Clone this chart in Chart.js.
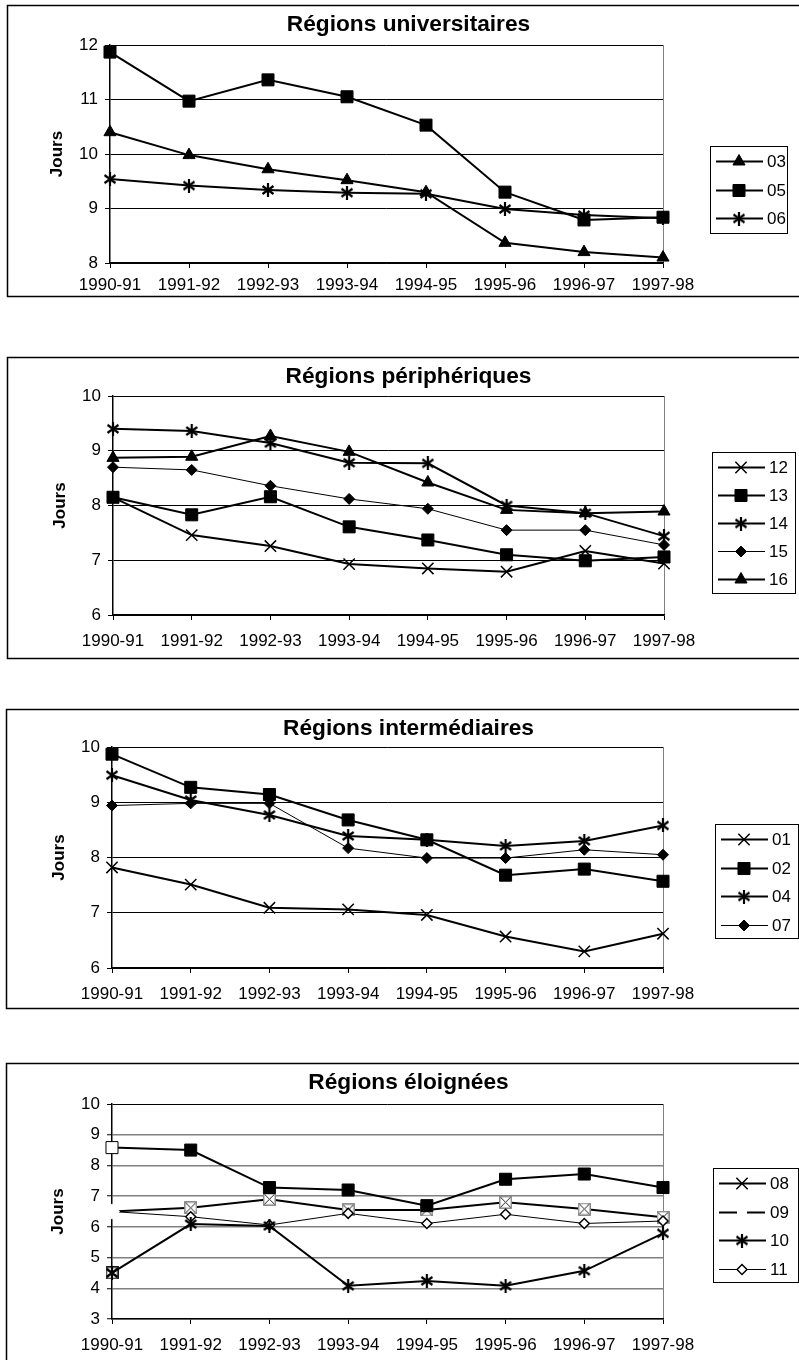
<!DOCTYPE html>
<html lang="fr">
<head>
<meta charset="utf-8">
<title>Jours par région</title>
<script src="https://cdn.jsdelivr.net/npm/chart.js@4.4.1/dist/chart.umd.min.js"></script>
<style>
  html, body { margin: 0; padding: 0; background: #fff; overflow: hidden; }
  #page { position: relative; width: 799px; height: 1360px; overflow: hidden; }
  #page canvas { position: absolute; left: 0; }
</style>
</head>
<body>
<div id="page">
  <canvas id="univ" width="817" height="330" style="top:0"></canvas>
  <canvas id="peri" width="817" height="330" style="top:352px"></canvas>
  <canvas id="inter" width="817" height="330" style="top:704px"></canvas>
  <canvas id="eloi" width="817" height="302" style="top:1058px"></canvas>
</div>
<script>
const years = ['1990-91', '1991-92', '1992-93', '1993-94', '1994-95', '1995-96', '1996-97', '1997-98'];

// Régions universitaires
const univ03 = [10.4, 9.98, 9.72, 9.52, 9.3, 8.37, 8.2, 8.1];
const univ05 = [11.87, 10.97, 11.36, 11.05, 10.53, 9.3, 8.79, 8.84];
const univ06 = [9.54, 9.42, 9.34, 9.29, 9.27, 8.99, 8.88, 8.82];
const univRange = [8, 12];

// Régions périphériques
const peri12 = [8.15, 7.46, 7.26, 6.93, 6.85, 6.79, 7.17, 6.94];
const peri13 = [8.15, 7.83, 8.16, 7.61, 7.37, 7.1, 6.99, 7.06];
const peri14 = [9.4, 9.36, 9.14, 8.78, 8.77, 8.0, 7.86, 7.44];
const peri15 = [8.7, 8.65, 8.36, 8.12, 7.94, 7.55, 7.55, 7.28];
const peri16 = [8.87, 8.89, 9.27, 8.98, 8.42, 7.92, 7.86, 7.89];
const periRange = [6, 10];

// Régions intermédiaires
const inter01 = [7.82, 7.51, 7.09, 7.06, 6.96, 6.57, 6.3, 6.62];
const inter02 = [9.87, 9.27, 9.14, 8.68, 8.32, 7.68, 7.79, 7.57];
const inter04 = [9.49, 9.04, 8.77, 8.39, 8.32, 8.21, 8.3, 8.58];
const inter07 = [8.94, 8.98, 8.98, 8.17, 7.99, 7.99, 8.14, 8.05];
const interRange = [6, 10];

// Régions éloignées (legend and markers do not match in the original)
const eloiCarres = [8.58, 8.5, 7.28, 7.2, 6.69, 7.55, 7.72, 7.28];
const eloi08 = [6.5, 6.62, 6.9, 6.55, 6.55, 6.8, 6.58, 6.31];
const eloi10 = [4.5, 6.09, 6.03, 4.08, 4.24, 4.08, 4.57, 5.79];
const eloi11 = [6.5, 6.33, 6.06, 6.44, 6.11, 6.41, 6.11, 6.19];
const eloiPoint = [4.5, null, null, null, null, null, null, null];
const eloiRange = [3, 10];

const FONT = '"Liberation Sans", Arial, sans-serif';
Chart.defaults.font.family = FONT;
Chart.defaults.color = '#000';

// excel-like markers that chart.js doesn't have
function asterisk(size) {
  const c = document.createElement('canvas');
  c.width = c.height = size;
  const g = c.getContext('2d');
  g.strokeStyle = '#000';
  g.lineWidth = 2.2;
  const a = 1.5, b = size - 1.5, m = size / 2;
  g.beginPath();
  g.moveTo(a, a + 1.5); g.lineTo(b, b - 1.5);
  g.moveTo(b, a + 1.5); g.lineTo(a, b - 1.5);
  g.moveTo(m, 0); g.lineTo(m, size);
  g.stroke();
  return c;
}

function crossBox(size, border) {
  const c = document.createElement('canvas');
  c.width = c.height = size;
  const g = c.getContext('2d');
  g.fillStyle = '#fff';
  g.fillRect(0.5, 0.5, size - 1, size - 1);
  g.strokeStyle = border;
  g.lineWidth = 1.3;
  g.strokeRect(0.75, 0.75, size - 1.5, size - 1.5);
  g.strokeStyle = '#222';
  g.lineWidth = 1;
  g.beginPath();
  g.moveTo(1.5, 1.5); g.lineTo(size - 1.5, size - 1.5);
  g.moveTo(size - 1.5, 1.5); g.lineTo(1.5, size - 1.5);
  g.stroke();
  return c;
}

const ASTERISK = asterisk(14);
const XBOX = crossBox(13, '#808080');
const XBOX_DARK = crossBox(13, '#000');

const MARKS = {
  tri:  { point: 'triangle', radius: 7, line: 2 },
  sq:   { point: 'rect', radius: 8.5, line: 2 },
  ast:  { point: ASTERISK, radius: 7, line: 2 },
  x:    { point: 'crossRot', radius: 8, pointLine: 1.5, line: 2 },
  dia:  { point: 'rectRot', radius: 5.5, line: 1 },
  odia: { point: 'rectRot', radius: 5, fill: '#fff', pointLine: 1.5, line: 1 },
  xbox: { point: XBOX, radius: 7, line: 2 },
  dbox: { point: XBOX_DARK, radius: 7, line: 2 },
  dash: { point: false, radius: 0, line: 2, dash: [18, 10] }
};

function serie(label, data, mark, extra) {
  const m = MARKS[mark];
  return Object.assign({
    label: label,
    data: data,
    borderColor: '#000',
    borderWidth: m.line,
    borderDash: m.dash || [],
    pointStyle: m.point,
    pointRadius: m.radius,
    pointBackgroundColor: m.fill || '#000',
    pointBorderColor: '#000',
    pointBorderWidth: m.pointLine || 1,
    tension: 0,
    fill: false,
    clip: false
  }, extra || {});
}

// frame + boxed legend drawn after the chart
function cadre(lay, legend) {
  return {
    id: 'cadre',
    afterDraw(chart) {
      const ctx = chart.ctx;
      ctx.save();
      ctx.strokeStyle = '#000';
      ctx.lineWidth = 1.5;
      ctx.strokeRect(lay.frame[0] + 0.5, 5.5, 830, lay.frame[1]);

      const [bx, by, bw, bh, first, step] = lay.box;
      ctx.lineWidth = 1;
      ctx.strokeRect(bx + 0.5, by + 0.5, bw, bh);
      legend.forEach((item, i) => {
        const m = MARKS[item[1]];
        const y = Math.round(by + first + i * step) + 0.5;
        ctx.strokeStyle = '#000';
        ctx.lineWidth = m.line;
        ctx.setLineDash(m.dash || []);
        ctx.beginPath();
        ctx.moveTo(bx + 6, y);
        ctx.lineTo(bx + 53, y);
        ctx.stroke();
        ctx.setLineDash([]);
        if (m.point) {
          ctx.fillStyle = m.fill || '#000';
          ctx.lineWidth = m.pointLine || 1;
          Chart.helpers.drawPoint(ctx, {
            pointStyle: m.point, radius: m.radius, borderWidth: m.pointLine || 1, rotation: 0
          }, bx + 29, y);
        }
        ctx.fillStyle = '#000';
        ctx.font = '17px ' + FONT;
        ctx.textBaseline = 'middle';
        ctx.fillText(item[0], bx + 57, y + 1);
      });
      ctx.restore();
    }
  };
}

function makeChart(id, title, range, datasets, legend, lay, grayGrid) {
  const canvas = document.getElementById(id);
  const tickFont = { size: 17, family: FONT };
  return new Chart(canvas, {
    type: 'line',
    data: { labels: years, datasets: datasets },
    options: {
      responsive: false,
      animation: false,
      events: [],
      layout: { padding: 0 },
      plugins: {
        legend: { display: false },
        tooltip: { enabled: false },
        title: {
          display: true,
          text: title,
          color: '#000',
          font: { size: 22.7, weight: 'bold', family: FONT },
          padding: { top: 11.4, bottom: lay.top - 27.24 - 11.4 }
        }
      },
      scales: {
        x: {
          offset: false,
          ticks: { color: '#000', font: tickFont, padding: lay.xPad, maxRotation: 0, autoSkip: false },
          grid: {
            color: c => c.index === years.length - 1 ? '#808080' : 'rgba(0,0,0,0)',
            tickColor: '#000',
            tickLength: 5,
            lineWidth: 1
          },
          border: { color: '#000', width: 1.5 },
          afterFit: s => { s.height = canvas.height - lay.bottom; }
        },
        y: {
          min: range[0],
          max: range[1],
          ticks: { stepSize: 1, color: '#000', font: tickFont, padding: 7 },
          grid: {
            color: c => (grayGrid && c.tick.value !== range[1]) ? '#808080' : '#000',
            lineWidth: c => (grayGrid && c.tick.value !== range[1]) ? 1.5 : 1,
            tickColor: '#000',
            tickWidth: 1,
            tickLength: 5
          },
          border: { color: '#000', width: 1.5 },
          title: {
            display: true,
            text: 'Jours',
            color: '#000',
            font: { size: 17, weight: 'bold', family: FONT },
            padding: { top: lay.yTitlePad, bottom: 0 }
          },
          afterFit: s => { s.width = lay.left; }
        },
        marge: {
          type: 'linear',
          position: 'right',
          display: true,
          grid: { display: false, drawTicks: false },
          border: { display: false },
          ticks: { display: false },
          afterFit: s => { s.width = canvas.width - lay.right; }
        }
      }
    },
    plugins: [cadre(lay, legend)]
  });
}

makeChart('univ', 'Régions universitaires', univRange, [
  serie('06', univ06, 'ast'),
  serie('03', univ03, 'tri'),
  serie('05', univ05, 'sq')
], [['03', 'tri'], ['05', 'sq'], ['06', 'ast']],
{ left: 110, right: 663, top: 45, bottom: 263, xPad: 7, yTitlePad: 47, frame: [7, 291], box: [710, 146, 77, 87, 15, 28.5] });

makeChart('peri', 'Régions périphériques', periRange, [
  serie('13', peri13, 'sq'),
  serie('14', peri14, 'ast'),
  serie('12', peri12, 'x'),
  serie('16', peri16, 'tri'),
  serie('15', peri15, 'dia')
], [['12', 'x'], ['13', 'sq'], ['14', 'ast'], ['15', 'dia'], ['16', 'tri']],
{ left: 113, right: 664, top: 44, bottom: 263, xPad: 11, yTitlePad: 50, frame: [7, 301], box: [712, 100, 83, 141, 15, 28] });

makeChart('inter', 'Régions intermédiaires', interRange, [
  serie('04', inter04, 'ast'),
  serie('02', inter02, 'sq'),
  serie('01', inter01, 'x'),
  serie('07', inter07, 'dia')
], [['01', 'x'], ['02', 'sq'], ['04', 'ast'], ['07', 'dia']],
{ left: 112, right: 663, top: 43, bottom: 264, xPad: 11, yTitlePad: 49, frame: [6, 299], box: [715, 120, 83, 114, 15, 28.7] });

makeChart('eloi', 'Régions éloignées', eloiRange, [
  serie('10', eloi10, 'ast'),
  serie('', eloiPoint, 'dbox', { showLine: false }),
  serie('', eloiCarres, 'sq', { pointBackgroundColor: eloiCarres.map((v, i) => i === 0 ? '#fff' : '#000') }),
  serie('11', eloi11, 'odia', {
    pointBorderColor: eloi11.map((v, i) => i === 0 ? '#fff' : '#000'),
    pointRadius: eloi11.map((v, i) => i === 0 ? 7 : 5)
  }),
  serie('08', eloi08, 'xbox', { pointRadius: eloi08.map((v, i) => i === 0 ? 0 : 7) })
], [['08', 'x'], ['09', 'dash'], ['10', 'ast'], ['11', 'odia']],
{ left: 112, right: 663, top: 46, bottom: 261, xPad: 11, yTitlePad: 48, frame: [6, 400], box: [713, 110, 85, 114, 15, 28.5] }, true);
</script>
</body>
</html>
